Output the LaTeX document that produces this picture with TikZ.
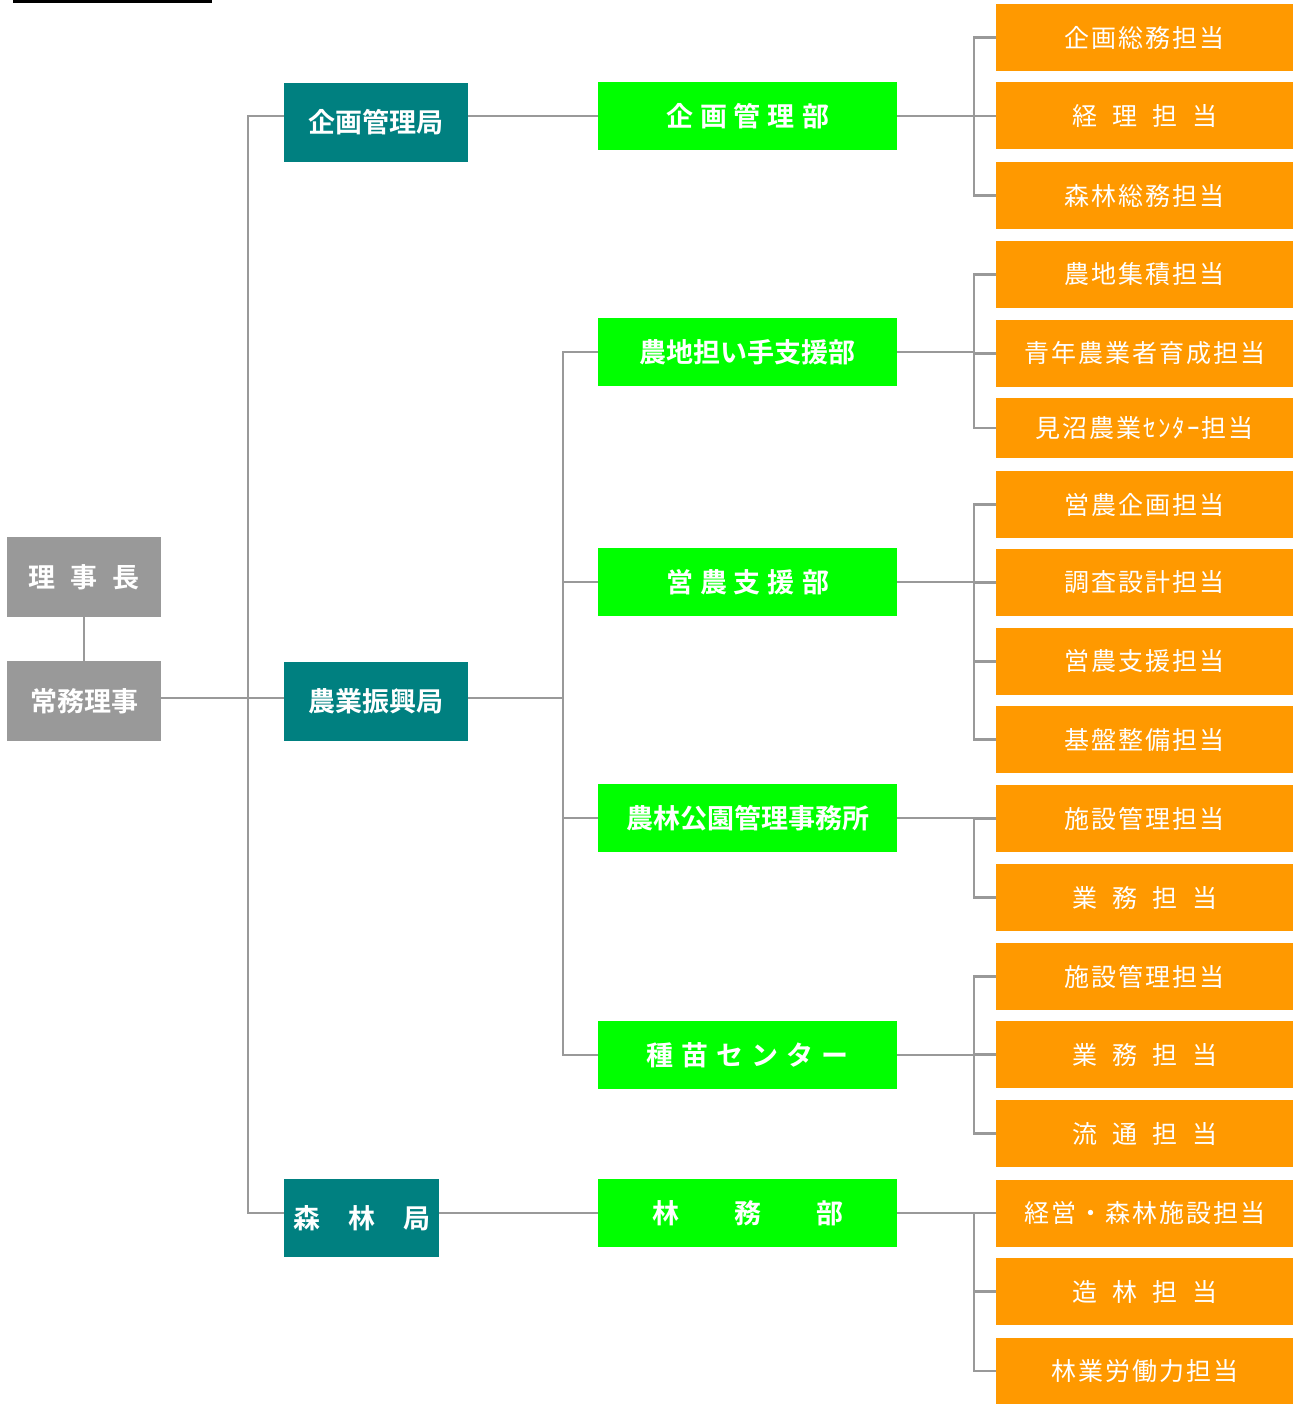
\documentclass[tikz,border=0pt]{standalone}
\usepackage{fontspec}
\newfontfamily\jpreg{Noto Sans CJK JP}[LetterSpace=8]
\newfontfamily\jpbold{Noto Sans CJK JP Bold}
\definecolor{boxgray}{HTML}{999999}
\definecolor{linegray}{HTML}{999999}
\definecolor{tealbox}{HTML}{008080}
\definecolor{greenbox}{HTML}{00FF00}
\definecolor{orangebox}{HTML}{FF9900}
\newcommand\myfb{\jpbold\fontsize{27}{27}\selectfont}
\newcommand\myfo{\jpreg\fontsize{25}{25}\selectfont}
\newcommand\gp[1]{\hspace{#1pt}}
\begin{document}
\begin{tikzpicture}[x=1pt,y=-1pt,
  box/.style={inner sep=0pt, outer sep=0pt, text=white, anchor=center},
  graybox/.style={box, fill=boxgray, minimum width=154pt, minimum height=80pt, font=\myfb},
  tealnode/.style={box, fill=tealbox, minimum width=184pt, minimum height=79pt, font=\myfb},
  greennode/.style={box, fill=greenbox, minimum width=299pt, minimum height=68pt, font=\myfb},
  orangenode/.style={box, fill=orangebox, minimum width=297pt, minimum height=67pt, font=\myfo},
  conn/.style={draw=linegray, line width=2.8pt}]
\fill[white] (0,0) rectangle (1293,1404);
\useasboundingbox (0,0) rectangle (1293,1404);
\fill[black] (13,0) rectangle (212,3);

% level 0
\node[graybox] (riji) at (84,577) {理\gp{15}事\gp{15}長};
\node[graybox] (jomu) at (84,701) {常務理事};

% level 1
\node[tealnode] (kkyoku) at (376,122.5) {企画管理局};
\node[tealnode] (nkyoku) at (376,701) {農業振興局};
\node[tealnode, minimum width=155pt, minimum height=78pt] (skyoku) at (361.5,1218) {森\gp{28}林\gp{28}局};

% level 2
\node[greennode] (g1) at (747.5,116) {企\gp{7}画\gp{7}管\gp{7}理\gp{7}部};
\node[greennode] (g2) at (747.5,352) {農地担い手支援部};
\node[greennode] (g3) at (747.5,582) {営\gp{7}農\gp{7}支\gp{7}援\gp{7}部};
\node[greennode] (g4) at (747.5,818) {農林公園管理事務所};
\node[greennode] (g5) at (747.5,1055) {種\gp{8}苗\gp{8}セ\gp{8}ン\gp{8}タ\gp{8}ー};
\node[greennode] (g6) at (747.5,1213) {林\gp{55}務\gp{55}部};

% level 3
\node[orangenode] (o1) at (1144.5,37.5) {企画総務担当};
\node[orangenode] (o2) at (1144.5,116) {経\gp{15}理\gp{15}担\gp{15}当};
\node[orangenode] (o3) at (1144.5,195.5) {森林総務担当};
\node[orangenode] (o4) at (1144.5,274.5) {農地集積担当};
\node[orangenode] (o5) at (1144.5,353.5) {青年農業者育成担当};
\node[orangenode, minimum height=60pt] (o6) at (1144.5,428) {見沼農業ｾﾝﾀｰ担当};
\node[orangenode] (o7) at (1144.5,504.5) {営農企画担当};
\node[orangenode] (o8) at (1144.5,582.5) {調査設計担当};
\node[orangenode] (o9) at (1144.5,661.5) {営農支援担当};
\node[orangenode] (o10) at (1144.5,739.5) {基盤整備担当};
\node[orangenode] (o11) at (1144.5,818.5) {施設管理担当};
\node[orangenode] (o12) at (1144.5,897.5) {業\gp{15}務\gp{15}担\gp{15}当};
\node[orangenode] (o13) at (1144.5,976.5) {施設管理担当};
\node[orangenode] (o14) at (1144.5,1054.5) {業\gp{15}務\gp{15}担\gp{15}当};
\node[orangenode] (o15) at (1144.5,1133.5) {流\gp{15}通\gp{15}担\gp{15}当};
\node[orangenode] (o16) at (1144.5,1213) {経営・森林施設担当};
\node[orangenode] (o17) at (1144.5,1291.5) {造\gp{15}林\gp{15}担\gp{15}当};
\node[orangenode] (o18) at (1144.5,1371) {林業労働力担当};

% trunk coordinates
\coordinate (t1) at (248,0);
\coordinate (t2) at (563,0);
\coordinate (t3) at (974,0);
\coordinate (mid) at (0,698);

% connectors level 0-1
\draw[conn] (riji.south) -- (jomu.north);
\draw[conn] (jomu.east |- mid) -- (nkyoku.west |- mid);
\draw[conn] (kkyoku.west |- g1.west) -| (t1 |- g6.west) -- (skyoku.west |- g6.west);

% level 1-2
\draw[conn] (kkyoku.east |- g1.west) -- (g1.west);
\draw[conn] (skyoku.east |- g6.west) -- (g6.west);
\draw[conn] (nkyoku.east |- mid) -- (t2 |- mid);
\draw[conn] (g2.west) -| (t2 |- g5.west) -- (g5.west);
\draw[conn] (g3.west) -- (g3.west -| t2);
\draw[conn] (g4.west) -- (g4.west -| t2);

% level 2-3
\draw[conn] (g1.east) -- (g1.east -| t3);
\draw[conn] (o1.west) -| (t3 |- o3.west) -- (o3.west);
\draw[conn] (o2.west) -- (o2.west -| t3);

\draw[conn] (g2.east) -- (g2.east -| t3);
\draw[conn] (o4.west) -| (t3 |- o6.west) -- (o6.west);
\draw[conn] (o5.west) -- (o5.west -| t3);

\draw[conn] (g3.east) -- (g3.east -| t3);
\draw[conn] (o7.west) -| (t3 |- o10.west) -- (o10.west);
\draw[conn] (o8.west) -- (o8.west -| t3);
\draw[conn] (o9.west) -- (o9.west -| t3);

\draw[conn] (g4.east) -- (g4.east -| t3);
\draw[conn] (o11.west) -| (t3 |- o12.west) -- (o12.west);

\draw[conn] (g5.east) -- (g5.east -| t3);
\draw[conn] (o13.west) -| (t3 |- o15.west) -- (o15.west);
\draw[conn] (o14.west) -- (o14.west -| t3);

\draw[conn] (g6.east) -- (g6.east -| t3);
\draw[conn] (o16.west) -| (t3 |- o18.west) -- (o18.west);
\draw[conn] (o17.west) -- (o17.west -| t3);
\end{tikzpicture}
\end{document}
